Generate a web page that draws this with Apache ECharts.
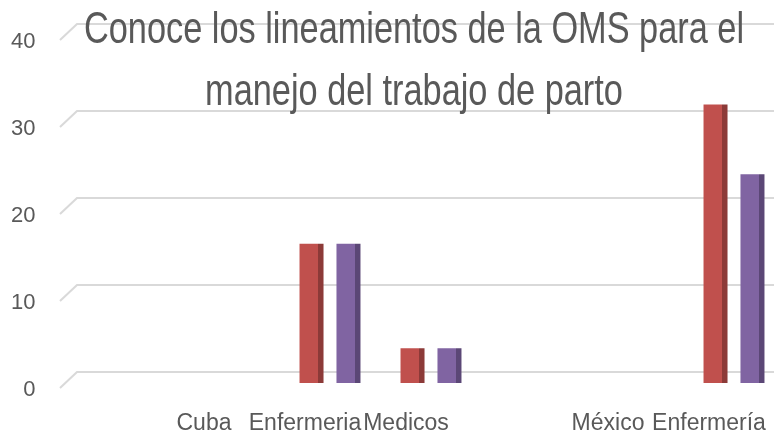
<!DOCTYPE html>
<html lang="es">
<head>
  <meta charset="UTF-8">
  <title>Conoce los lineamientos de la OMS</title>
  <script src="https://cdn.jsdelivr.net/npm/echarts@6/dist/echarts.min.js"></script>
  <style>
    html, body { margin: 0; padding: 0; background: #fff; overflow: hidden; }
    /* el gráfico original está recortado a la derecha */
    #chart { width: 790px; height: 439px; }
  </style>
</head>
<body>
  <div id="chart"></div>
  <script>
    // datos
    const categories = ['', 'Cuba', 'Enfermeria', 'Medicos', '', 'México', 'Enfermería'];
    const serieRoja = [null, null, 16, 4, null, null, 32];
    const serieMorada = [null, null, 16, 4, null, null, 24];
    const yTicks = [0, 10, 20, 30, 40];
    const titulo = 'Conoce los lineamientos de la OMS para el\nmanejo del trabajo de parto';

    const gris = '#595959';
    const fuente = '"Liberation Sans", Arial, sans-serif';

    // barra con cara lateral más oscura (efecto 3D de Excel)
    function cara(base, lado) {
      return new echarts.graphic.LinearGradient(0, 0, 1, 0, [
        { offset: 0, color: base },
        { offset: 0.78, color: base },
        { offset: 0.79, color: lado },
        { offset: 1, color: lado }
      ]);
    }

    const chart = echarts.init(document.getElementById('chart'));
    chart.setOption({
      backgroundColor: '#fff',
      animation: false,
      grid: { left: 77.5, right: 5.5, top: 35, bottom: 56 },
      xAxis: {
        type: 'category',
        data: categories,
        axisLine: { show: false },
        axisTick: { show: false },
        axisLabel: {
          interval: 0, margin: 29, padding: [0, 50, 0, 0],
          fontFamily: fuente, fontSize: 23, color: gris
        }
      },
      yAxis: {
        type: 'value',
        min: 0, max: 40, interval: 10,
        splitLine: { show: false },
        axisLine: { show: false },
        axisTick: { show: false },
        axisLabel: {
          margin: 42, verticalAlign: 'top', lineHeight: 14,
          fontFamily: fuente, fontSize: 22, color: gris
        }
      },
      series: [
        {
          type: 'bar', data: serieRoja, barWidth: 24, barGap: '54%',
          itemStyle: { color: cara('#C0504D', '#8C3A38') }, z: 3
        },
        {
          type: 'bar', data: serieMorada, barWidth: 24, barGap: '54%',
          itemStyle: { color: cara('#8064A2', '#5B4776') }, z: 3
        }
      ]
    });

    // líneas de cuadrícula con pared lateral inclinada + título estrecho
    const elementos = yTicks.map(function (v) {
      const p = chart.convertToPixel({ yAxisIndex: 0 }, v);
      return {
        type: 'polyline', z: 0, silent: true,
        shape: { points: [[60, p + 5], [77, p - 11], [790, p - 11]] },
        style: { stroke: '#D9D9D9', lineWidth: 2, fill: null }
      };
    });
    elementos.push({
      type: 'text', z: 10, x: 414, y: 0, scaleX: 0.78, scaleY: 1,
      style: {
        text: titulo, fill: gris, align: 'center', verticalAlign: 'top',
        font: '44px "Liberation Sans", Arial, sans-serif', lineHeight: 62
      }
    });
    chart.setOption({ graphic: elementos });
  </script>
</body>
</html>
